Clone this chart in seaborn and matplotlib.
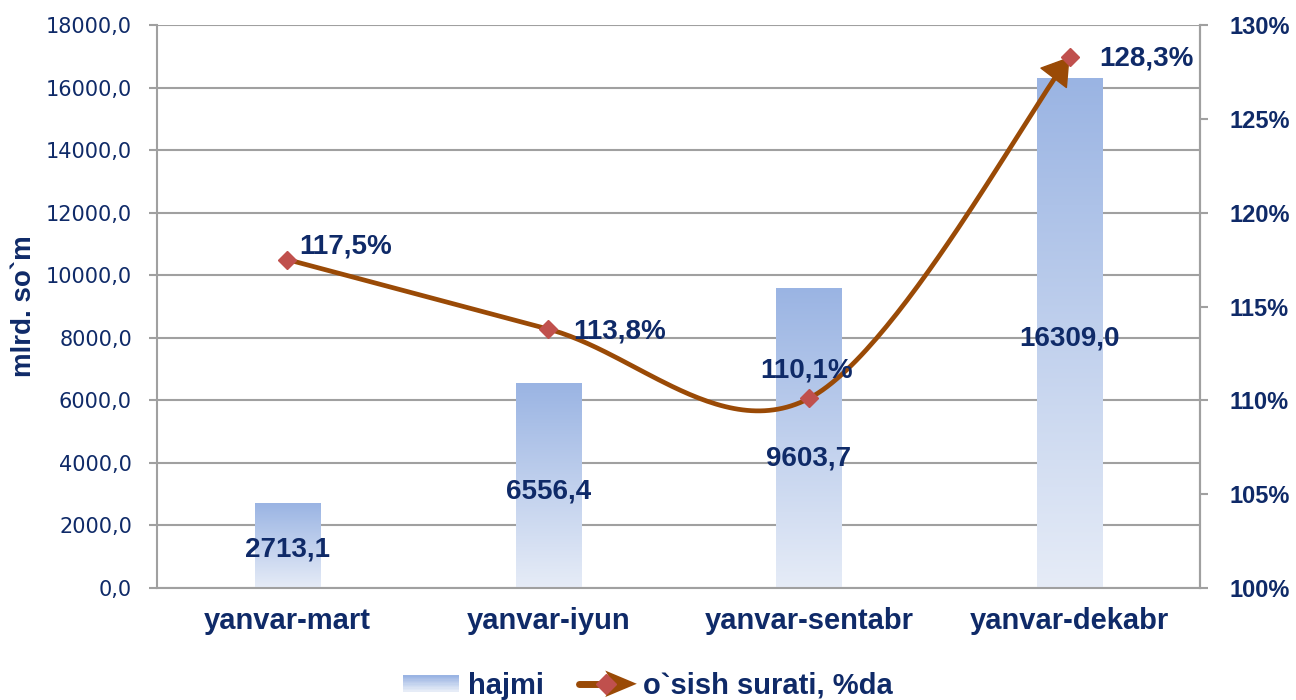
import numpy as np
import matplotlib
matplotlib.use("Agg")
import matplotlib.pyplot as plt
import seaborn as sns
from matplotlib.lines import Line2D
from matplotlib.patches import Polygon, Rectangle, Patch
from matplotlib.legend_handler import HandlerBase
from matplotlib.colors import to_rgb

# ---------------- data ----------------
categories = ["yanvar-mart", "yanvar-iyun", "yanvar-sentabr", "yanvar-dekabr"]
volume = [2713.1, 6556.4, 9603.7, 16309.0]          # mlrd. so`m
growth = [117.5, 113.8, 110.1, 128.3]               # %
volume_labels = ["2713,1", "6556,4", "9603,7", "16309,0"]
growth_labels = ["117,5%", "113,8%", "110,1%", "128,3%"]
left_ticks = [0, 2000, 4000, 6000, 8000, 10000, 12000, 14000, 16000, 18000]
right_ticks = [100, 105, 110, 115, 120, 125, 130]
legend_bar = "hajmi"
legend_line = "o`sish surati, %da"
ylabel = "mlrd. so`m"

# ---------------- style ----------------
NAVY = "#0F2A68"
BROWN = "#9A4A06"
RED = "#C0504D"
GRID = "#A0A0A0"
BAR_TOP = "#9AB4E3"
BAR_BOT = "#E6ECF7"

sns.set_theme(style="white")
plt.rcParams["font.family"] = ["Liberation Sans", "DejaVu Sans"]

fig = plt.figure(figsize=(12.96, 7.0), dpi=100)
ax = fig.add_axes([157 / 1296, 1 - 588 / 700, (1200 - 157) / 1296, (588 - 25) / 700])

sns.barplot(x=categories, y=volume, ax=ax, color=BAR_TOP, width=0.25,
            saturation=1, zorder=2)
ax.set_xlim(-0.5, 3.5)
ax.set_ylim(0, 18000)

# gradient fill of bars
grad = np.linspace(0, 1, 256)[:, None]
c_top, c_bot = np.array(to_rgb(BAR_TOP)), np.array(to_rgb(BAR_BOT))
img = c_top[None, None, :] * (1 - grad[:, :, None]) + c_bot[None, None, :] * grad[:, :, None]
for p in ax.patches:
    x0, y0 = p.get_x(), p.get_y()
    w, h = p.get_width(), p.get_height()
    p.set_edgecolor("none")
    im = ax.imshow(img, extent=(x0, x0 + w, y0, y0 + h), aspect="auto",
                   zorder=2.5, interpolation="bilinear")
    im.set_clip_path(p)
ax.set_xlim(-0.5, 3.5)
ax.set_ylim(0, 18000)

# grid and spines
ax.set_axisbelow(True)
ax.set_yticks(left_ticks)
ax.set_yticklabels([f"{v},0" for v in left_ticks], family=["DejaVu Sans"],
                   fontsize=15, color=NAVY)
ax.yaxis.grid(True, color=GRID, linewidth=1.5)
ax.xaxis.grid(False)
ax.spines["top"].set_visible(False)
for s in ["left", "bottom", "right"]:
    ax.spines[s].set_color(GRID)
    ax.spines[s].set_linewidth(1.5)
ax.tick_params(axis="y", which="both", left=True, length=6, width=1.5,
               color=GRID, pad=12)
ax.tick_params(axis="x", length=0, pad=14)
for t in ax.get_xticklabels():
    t.set_fontsize(21)
    t.set_fontweight("bold")
    t.set_color(NAVY)
ax.set_ylabel(ylabel, fontsize=20, fontweight="bold", color=NAVY, labelpad=6)
ax.set_xlabel("")

# bar value labels
bar_label_offsets = [-3, -4, -15, -4]   # points
for i, (v, lab) in enumerate(zip(volume, volume_labels)):
    ax.annotate(lab, xy=(i, v / 2), xytext=(0, bar_label_offsets[i]),
                textcoords="offset points", ha="center", va="center",
                fontsize=20, fontweight="bold", color=NAVY, zorder=6)

# secondary axis
ax2 = ax.twinx()
ax2.set_ylim(100, 130)
ax2.set_xlim(-0.5, 3.5)
ax2.set_yticks(right_ticks)
ax2.set_yticklabels([f"{v}%" for v in right_ticks], fontsize=17,
                    fontweight="bold", color=NAVY)
ax2.tick_params(axis="y", right=True, length=6, width=1.5, color=GRID, pad=15)
ax2.grid(False)
for s in ["top", "left", "bottom"]:
    ax2.spines[s].set_visible(False)
ax2.spines["right"].set_color(GRID)
ax2.spines["right"].set_linewidth(1.5)

# smoothed line (Catmull-Rom in display space, like Excel's smoothing)
xs = np.arange(len(growth), dtype=float)
P = ax2.transData.transform(np.column_stack([xs, growth]))
n = len(P)
tang = np.zeros_like(P)
for i in range(n):
    a = P[max(i - 1, 0)]
    b = P[min(i + 1, n - 1)]
    tang[i] = (b - a) / 2.0
curve = []
t = np.linspace(0, 1, 60)[:, None]
for i in range(n - 1):
    p0, p3 = P[i], P[i + 1]
    c1, c2 = p0 + tang[i] / 3.0, p3 - tang[i + 1] / 3.0
    seg = ((1 - t) ** 3) * p0 + 3 * ((1 - t) ** 2) * t * c1 + 3 * (1 - t) * t ** 2 * c2 + t ** 3 * p3
    curve.append(seg if i == 0 else seg[1:])
curve = np.vstack(curve)
curve_d = ax2.transData.inverted().transform(curve)
ax2.plot(curve_d[:, 0], curve_d[:, 1], color=BROWN, lw=3.4, solid_capstyle="butt",
         zorder=3)

# arrow head at the end
end = P[-1]
direction = tang[-1] / np.linalg.norm(tang[-1])
start = end - direction * 30
end_d = ax2.transData.inverted().transform(end)
start_d = ax2.transData.inverted().transform(start)
ax2.annotate("", xy=end_d, xytext=start_d,
             arrowprops=dict(arrowstyle="-|>,head_length=1.8,head_width=1.15",
                             color=BROWN, lw=1, shrinkA=0, shrinkB=0,
                             mutation_scale=10), zorder=4)

ax2.plot(xs, growth, linestyle="none", marker="D", markersize=9,
         color=RED, markeredgecolor=RED, zorder=5)

growth_offsets = [(8.5, 9.5, "left"), (18, -2, "left"), (-2, 20, "center"), (21, -1.5, "left")]
for i, (v, lab) in enumerate(zip(growth, growth_labels)):
    dx, dy, ha = growth_offsets[i]
    ax2.annotate(lab, xy=(i, v), xytext=(dx, dy), textcoords="offset points",
                 ha=ha, va="center", fontsize=20, fontweight="bold", color=NAVY,
                 zorder=6)


# ---------------- legend ----------------
class GradientHandler(HandlerBase):
    def create_artists(self, legend, orig_handle, xdescent, ydescent, width,
                       height, fontsize, trans):
        arts = []
        nstrip = 12
        h = height * 0.8
        y0 = -ydescent + (height - h) / 2
        for k in range(nstrip):
            f = k / (nstrip - 1)
            col = c_top * (1 - f) + c_bot * f
            r = Rectangle((-xdescent, y0 + h - (k + 1) * h / nstrip), width,
                          h / nstrip + 0.3, facecolor=col, edgecolor="none",
                          transform=trans)
            arts.append(r)
        return arts


class ArrowHandler(HandlerBase):
    def create_artists(self, legend, orig_handle, xdescent, ydescent, width,
                       height, fontsize, trans):
        y = height / 2 - ydescent
        x0 = -xdescent
        line = Line2D([x0, x0 + width * 0.62], [y, y], color=BROWN, lw=5,
                      transform=trans)
        tri = Polygon([[x0 + width * 0.48, y + height * 0.65],
                       [x0 + width * 1.05, y],
                       [x0 + width * 0.48, y - height * 0.65],
                       [x0 + width * 0.62, y]], closed=True,
                      facecolor=BROWN, edgecolor="none", transform=trans)
        mk = Line2D([x0 + width * 0.5], [y], marker="D", markersize=10,
                    color=RED, linestyle="none", transform=trans)
        return [line, tri, mk]


h_bar = Patch(facecolor=BAR_TOP)
h_line = Line2D([], [], color=BROWN)
leg = fig.legend([h_bar, h_line], [legend_bar, legend_line], loc="center",
                 bbox_to_anchor=(0.5, 1 - 686 / 700), ncol=2, frameon=False,
                 handler_map={Patch: GradientHandler(), Line2D: ArrowHandler()},
                 prop={"size": 21, "weight": "bold"}, handlelength=1.9,
                 handletextpad=0.3, columnspacing=1.2)
for txt in leg.get_texts():
    txt.set_color(NAVY)

fig.savefig("out.png", dpi=100)
